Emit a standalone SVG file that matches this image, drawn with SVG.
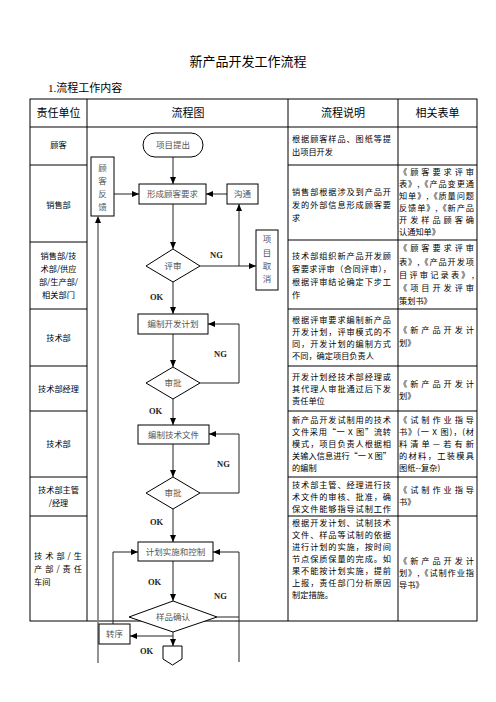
<svg xmlns="http://www.w3.org/2000/svg" width="496" height="702" viewBox="0 0 496 702">
<defs>
<marker id="ah" markerWidth="7" markerHeight="6" refX="7" refY="3" orient="auto" markerUnits="userSpaceOnUse"><path d="M0,0 L7,3 L0,6 z" fill="#000"/></marker>
</defs>
<style>
.t{font-family:"Noto Sans CJK SC",sans-serif;font-size:8.2px;fill:#000}
.tc{font-family:"Noto Sans CJK SC",sans-serif;font-size:8.2px;fill:#000;text-anchor:middle}
.h{font-family:"Noto Sans CJK SC",sans-serif;font-size:11px;fill:#000;text-anchor:middle}
.f{font-family:"Noto Sans CJK SC",sans-serif;font-size:8.5px;fill:#555;text-anchor:middle}
.l{font-family:"Liberation Serif",serif;font-size:8.5px;font-weight:bold;fill:#222}
.box{fill:#fff;stroke:#000;stroke-width:1}
.ln{fill:none;stroke:#000;stroke-width:1}
.c{fill:none;stroke:#222;stroke-width:1}
.a{marker-end:url(#ah)}
</style>
<rect width="496" height="702" fill="#fff"/>
<text x="248" y="65.5" style="font-family:'Noto Sans CJK SC',sans-serif;font-size:13px;fill:#000;text-anchor:middle">新产品开发工作流程</text>
<text x="48" y="92" style="font-family:'Liberation Serif','Noto Sans CJK SC',serif;font-size:11px;fill:#000">1.流程工作内容</text>

<g id="table">
<rect x="30" y="99" width="447" height="522" class="ln"/>
<path class="ln" d="M87,99V621M288,99V621M398,99V621M30,127H477"/>
<path class="ln" d="M30,165H87M30,242H87M30,309H87M30,366H87M30,411H87M30,477H87M30,516H87"/>
<path class="ln" d="M288,165H477M288,240H477M288,309H477M288,366H477M288,411H477M288,477H477M288,516H477"/>
<text class="h" x="58.5" y="117">责任单位</text>
<text class="h" x="188" y="117">流程图</text>
<text class="h" x="343" y="117">流程说明</text>
<text class="h" x="437.5" y="117">相关表单</text>
</g>

<g id="units">
<text class="tc" x="58.5" y="148">顾客</text>
<text class="tc" x="58.5" y="208">销售部</text>
<text class="tc" x="58.5" y="259">销售部/技</text>
<text class="tc" x="58.5" y="272">术部/供应</text>
<text class="tc" x="58.5" y="285">部/生产部/</text>
<text class="tc" x="58.5" y="298">相关部门</text>
<text class="tc" x="58.5" y="341">技术部</text>
<text class="tc" x="58.5" y="392">技术部经理</text>
<text class="tc" x="58.5" y="447">技术部</text>
<text class="tc" x="58.5" y="493">技术部主管</text>
<text class="tc" x="58.5" y="506">/经理</text>
<text class="t" x="34" y="559" textLength="48" lengthAdjust="spacing">技术部/生</text>
<text class="t" x="34" y="572" textLength="48" lengthAdjust="spacing">产部/责任</text>
<text class="t" x="34" y="585">车间</text>
</g>

<g id="descriptions">
<text class="t" x="292" y="142" textLength="99" lengthAdjust="spacing">根据顾客样品、图纸等提</text>
<text class="t" x="292" y="155">出项目开发</text>
<text class="t" x="292" y="195" textLength="99" lengthAdjust="spacing">销售部根据涉及到产品开</text>
<text class="t" x="292" y="208" textLength="99" lengthAdjust="spacing">发的外部信息形成顾客要</text>
<text class="t" x="292" y="221">求</text>
<text class="t" x="292" y="259" textLength="99" lengthAdjust="spacing">技术部组织新产品开发顾</text>
<text class="t" x="292" y="272" textLength="99" lengthAdjust="spacing">客要求评审（合同评审），</text>
<text class="t" x="292" y="285" textLength="99" lengthAdjust="spacing">根据评审结论确定下步工</text>
<text class="t" x="292" y="298">作</text>
<text class="t" x="292" y="323" textLength="99" lengthAdjust="spacing">根据评审要求编制新产品</text>
<text class="t" x="292" y="335" textLength="99" lengthAdjust="spacing">开发计划，评审模式的不</text>
<text class="t" x="292" y="347" textLength="99" lengthAdjust="spacing">同，开发计划的编制方式</text>
<text class="t" x="292" y="359">不同，确定项目负责人</text>
<text class="t" x="292" y="380" textLength="99" lengthAdjust="spacing">开发计划经技术部经理或</text>
<text class="t" x="292" y="392" textLength="99" lengthAdjust="spacing">其代理人审批通过后下发</text>
<text class="t" x="292" y="404">责任单位</text>
<text class="t" x="292" y="423" textLength="99" lengthAdjust="spacing">新产品开发试制用的技术</text>
<text class="t" x="292" y="435" textLength="99" lengthAdjust="spacing">文件采用“一 X 图”流转</text>
<text class="t" x="292" y="447" textLength="99" lengthAdjust="spacing">模式，项目负责人根据相</text>
<text class="t" x="292" y="459" textLength="99" lengthAdjust="spacing">关输入信息进行“一 X 图”</text>
<text class="t" x="292" y="471">的编制</text>
<text class="t" x="292" y="488" textLength="99" lengthAdjust="spacing">技术部主管、经理进行技</text>
<text class="t" x="292" y="500" textLength="99" lengthAdjust="spacing">术文件的审核、批准，确</text>
<text class="t" x="292" y="512" textLength="99" lengthAdjust="spacing">保文件能够指导试制工作</text>
<text class="t" x="292" y="526" textLength="99" lengthAdjust="spacing">根据开发计划、试制技术</text>
<text class="t" x="292" y="538" textLength="99" lengthAdjust="spacing">文件、样品等试制的依据</text>
<text class="t" x="292" y="550" textLength="99" lengthAdjust="spacing">进行计划的实施，按时间</text>
<text class="t" x="292" y="562" textLength="99" lengthAdjust="spacing">节点保质保量的完成。如</text>
<text class="t" x="292" y="574" textLength="99" lengthAdjust="spacing">果不能按计划实施，提前</text>
<text class="t" x="292" y="586" textLength="99" lengthAdjust="spacing">上报，责任部门分析原因</text>
<text class="t" x="292" y="598">制定措施。</text>
</g>

<g id="forms">
<text class="t" x="399" y="175" textLength="75" lengthAdjust="spacing">《顾客要求评审</text>
<text class="t" x="399" y="187" textLength="75" lengthAdjust="spacing">表》,《产品变更通</text>
<text class="t" x="399" y="199" textLength="75" lengthAdjust="spacing">知单》,《质量问题</text>
<text class="t" x="399" y="211" textLength="75" lengthAdjust="spacing">反馈单》,《新产品</text>
<text class="t" x="399" y="223" textLength="75" lengthAdjust="spacing">开发样品顾客确</text>
<text class="t" x="399" y="235">认通知单》</text>
<text class="t" x="399" y="251" textLength="75" lengthAdjust="spacing">《顾客要求评审</text>
<text class="t" x="399" y="265" textLength="75" lengthAdjust="spacing">表》,《产品开发项</text>
<text class="t" x="399" y="278" textLength="75" lengthAdjust="spacing">目评审记录表》,</text>
<text class="t" x="399" y="291" textLength="75" lengthAdjust="spacing">《项目开发评审</text>
<text class="t" x="399" y="304">策划书》</text>
<text class="t" x="399" y="333" textLength="75" lengthAdjust="spacing">《新产品开发计</text>
<text class="t" x="399" y="346">划》</text>
<text class="t" x="399" y="387" textLength="75" lengthAdjust="spacing">《新产品开发计</text>
<text class="t" x="399" y="399">划》</text>
<text class="t" x="399" y="423" textLength="75" lengthAdjust="spacing">《试制作业指导</text>
<text class="t" x="399" y="435" textLength="75" lengthAdjust="spacing">书》(一 X 图)，(材</text>
<text class="t" x="399" y="447" textLength="75" lengthAdjust="spacing">料清单—若有新</text>
<text class="t" x="399" y="459" textLength="75" lengthAdjust="spacing">的材料，工装模具</text>
<text class="t" x="399" y="471">图纸--复杂)</text>
<text class="t" x="399" y="493" textLength="75" lengthAdjust="spacing">《试制作业指导</text>
<text class="t" x="399" y="505">书》</text>
<text class="t" x="399" y="564" textLength="75" lengthAdjust="spacing">《新产品开发计</text>
<text class="t" x="399" y="576" textLength="75" lengthAdjust="spacing">划》,《试制作业指</text>
<text class="t" x="399" y="588">导书》</text>
</g>

<g id="connectors">
<path class="c" d="M98,663V218" style="stroke:#888;stroke-width:1.8"/>
<path d="M95,223L98,216L101,223z" fill="#000"/>
<path class="c a" d="M173,157V184"/>
<path class="c a" d="M114,194H139"/>
<path class="c a" d="M227,194H206"/>
<path class="c a" d="M173,204V249"/>
<path class="c a" d="M200,266H256"/>
<path class="c a" d="M239,266V204"/>
<path class="c a" d="M173,282V314"/>
<path class="c a" d="M173,334V367"/>
<path class="c a" d="M200,383H239V324H208"/>
<path class="c a" d="M173,399V425"/>
<path class="c a" d="M173,444V477"/>
<path class="c a" d="M200,493H239V434H209"/>
<path class="c a" d="M173,509V542"/>
<path class="c a" d="M173,561V601"/>
<path class="c a" d="M217,617H239V552H213"/>
<path class="c" d="M239,617V662"/>
<path class="c a" d="M173,632V646"/>
<path class="c a" d="M173,636H130"/>
<path class="c a" d="M113,624V552H138"/>
<text class="l" x="210" y="258">NG</text>
<text class="l" x="150" y="300">OK</text>
<text class="l" x="214" y="357">NG</text>
<text class="l" x="149" y="414">OK</text>
<text class="l" x="217" y="467">NG</text>
<text class="l" x="150" y="525">OK</text>
<text class="l" x="148" y="585">OK</text>
<text class="l" x="214" y="599">NG</text>
<text class="l" x="140" y="654">OK</text>
</g>

<g id="n-start"><rect class="box" x="143" y="133" width="60" height="24" rx="12"/><text class="f" x="173" y="148">项目提出</text></g>
<g id="n-feedback"><rect class="box" x="91" y="157" width="23" height="59"/>
<text class="f" x="102.5" y="171">顾</text><text class="f" x="102.5" y="184">客</text><text class="f" x="102.5" y="197">反</text><text class="f" x="102.5" y="210">馈</text></g>
<g id="n-req"><rect class="box" x="139" y="184" width="67" height="20"/><text class="f" x="172.5" y="197">形成顾客要求</text></g>
<g id="n-comm"><rect class="box" x="227" y="184" width="31" height="20"/><text class="f" x="242.5" y="197">沟通</text></g>
<g id="n-cancel"><rect class="box" x="256" y="230" width="22" height="60"/>
<text class="f" x="267" y="242">项</text><text class="f" x="267" y="256">目</text><text class="f" x="267" y="269">取</text><text class="f" x="267" y="282">消</text></g>
<g id="n-review"><polygon class="box" points="173,249 200,266 173,282 146,266"/><text class="f" x="173" y="269">评审</text></g>
<g id="n-plan"><rect class="box" x="138" y="314" width="70" height="20"/><text class="f" x="173" y="327">编制开发计划</text></g>
<g id="n-approve1"><polygon class="box" points="173,367 200,383 173,399 146,383"/><text class="f" x="173" y="386">审批</text></g>
<g id="n-techdoc"><rect class="box" x="138" y="425" width="71" height="19"/><text class="f" x="173.5" y="437.5">编制技术文件</text></g>
<g id="n-approve2"><polygon class="box" points="173,477 200,493 173,509 146,493"/><text class="f" x="173" y="496">审批</text></g>
<g id="n-exec"><rect class="box" x="138" y="542" width="75" height="19"/><text class="f" x="175.5" y="554.5">计划实施和控制</text></g>
<g id="n-sample"><polygon class="box" points="173,601 217,617 173,632 129,617"/><text class="f" x="173" y="620">样品确认</text></g>
<g id="n-transfer"><rect class="box" x="99" y="624" width="31" height="20"/><text class="f" x="114.5" y="637">转序</text></g>
<g id="n-offpage"><polygon class="box" points="163,646 182,646 182,659 172.5,665 163,659"/></g>
</svg>
